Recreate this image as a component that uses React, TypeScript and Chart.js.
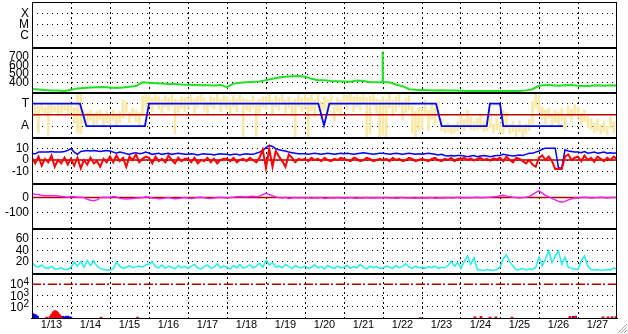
import React, { useEffect, useRef } from 'react';
import { Chart, registerables } from 'chart.js';

Chart.register(...registerables);

// ---------- labels ----------
const dayLabels = ['1/13', '1/14', '1/15', '1/16', '1/17', '1/18', '1/19', '1/20', '1/21', '1/22', '1/23', '1/24', '1/25', '1/26', '1/27'];
const statusTickValues = [1, 2, 3];
const statusTickLabels = ['C', 'M', 'X'];
const modeTickValues = [1, 3];
const modeTickLabels = ['A', 'T'];
const levelTickValues = [400, 500, 600, 700];
const devTickValues = [-10, 0, 10];
const magTickValues = [-100, 0];
const cyanTickValues = [20, 40, 60];
const logTickValues = [100, 1000, 10000];
const logTickBase = '10';
const logTickExponents = ['2', '3', '4'];

// ---------- data ----------
const FINE_STEP_H = 2; // hours between samples
const GREEN_STEP_H = 4;

// panel 2 (green)
const greenValues = [
  328, 322, 315, 312, 310, 305,
  320, 335, 340, 345, 348, 350,
  345, 340, 345, 355, 362, 405,
  400, 395, 390, 385, 385, 380,
  378, 375, 372, 370, 368, 375,
  350, 390, 400, 405, 410, 415,
  430, 445, 460, 470, 475, 478,
  470, 445, 430, 428, 420, 418,
  415, 412, 425, 420, 405, 405,
  405, 405, 380, 360, 325, 318,
  315, 313, 312, 313, 312, 310,
  308, 306, 305, 306, 305, 304,
  305, 304, 305, 306, 312, 325,
  365, 375, 370, 365, 370, 375,
  365, 360, 365, 370, 365, 370,
  368,
];
const greenSpikeTimes = [215.6, 215.8, 216.0];
const greenSpikeValues = [405, 760, 405];

// panel 3 (A / T): yellow range per 2 h bin
const yellowHigh = [
  3.0, 2.9, 2.8, 3.0, 2.7, 2.9, 3.0, 2.8, 2.9, 3.0, 2.9, 3.1,
  2.9, 2.6, 3.9, 3.9, 2.4, 2.2, 2.4, 2.1, 2.3, 2.4, 2.0, 2.3,
  2.1, 2.4, 2.0, 2.3, 3.3, 3.2, 2.2, 2.6, 2.4, 2.2, 3.7, 3.8,
  3.7, 3.5, 3.8, 3.6, 3.3, 3.7, 3.5, 3.8, 3.4, 3.3, 3.6, 3.5,
  3.5, 3.8, 3.4, 3.6, 3.9, 3.5, 3.2, 3.7, 3.5, 3.9, 3.4, 3.7,
  3.6, 3.3, 3.7, 3.4, 3.8, 3.5, 3.4, 3.3, 3.7, 3.2, 3.4, 3.6,
  3.6, 3.9, 3.3, 3.7, 3.5, 3.8, 3.3, 3.6, 3.2, 3.4, 3.8, 3.5,
  3.8, 3.5, 3.9, 3.3, 3.9, 3.2, 3.6, 3.4, 3.8, 3.0, 3.5, 3.3,
  3.9, 3.7, 4.0, 3.6, 3.8, 3.6, 3.9, 3.5, 3.7, 3.9, 3.4, 3.3,
  3.6, 3.4, 3.9, 3.3, 3.6, 3.9, 3.2, 3.5, 3.7, 2.8, 2.3, 2.7,
  2.6, 3.3, 2.4, 3.1, 2.6, 3.2, 1.6, 1.0, 1.3, 0.9, 1.1, 1.4,
  2.0, 1.6, 2.4, 1.8, 1.4, 1.7, 2.0, 1.4, 1.6, 1.9, 1.2, 1.7,
  1.3, 2.4, 2.2, 1.2, 1.4, 1.0, 1.5, 0.9, 1.2, 1.6, 3.2, 4.0,
  3.7, 2.7, 2.4, 2.6, 2.1, 2.4, 2.2, 2.6, 2.0, 2.8, 2.5, 2.9,
  2.7, 2.1, 2.4, 1.9, 1.7, 1.3, 1.6, 1.1, 1.4, 1.0, 1.8, 1.4,
  1.4,
];
const yellowLow = [
  2.2, 2.0, 0.4, 2.3, 2.1, 0.2, 2.2, 2.3, 1.9, 2.2, 2.4, 2.1,
  2.2, 1.3, 0.4, 0.3, 1.3, 1.1, 1.5, 1.0, 1.2, 1.6, 0.9, 1.3,
  1.0, 1.5, 1.0, 1.3, 1.7, 2.2, 1.3, 1.8, 1.4, 1.1, 2.1, 2.7,
  2.8, 2.3, 2.9, 2.5, 2.2, 2.7, 2.4, 2.8, 0.3, 2.2, 2.6, 2.3,
  2.6, 2.9, 2.2, 2.6, 3.0, 2.4, 2.0, 2.7, 2.5, 3.0, 2.3, 2.8,
  2.5, 2.1, 2.7, 2.3, 2.9, 0.1, 2.4, 2.3, 2.6, 0.1, 2.2, 2.7,
  2.5, 3.0, 2.1, 2.7, 2.4, 2.9, 2.2, 2.6, 1.9, 0.0, 2.7, 2.3,
  2.6, 0.0, 2.4, 1.8, 2.9, 1.6, 2.4, 2.0, 2.7, 1.4, 2.3, 1.9,
  2.9, 2.5, 3.1, 2.3, 2.7, 2.4, 3.0, 0.0, 0.3, 2.8, 2.2, 0.0,
  0.2, 0.0, 2.6, 1.9, 2.3, 2.7, 1.6, 2.2, 2.4, 0.4, 0.0, 0.6,
  0.8, 1.9, 0.6, 1.6, 1.1, 1.9, 0.6, 0.4, 0.5, 0.3, 0.4, 0.6,
  0.9, 0.6, 1.0, 0.7, 0.6, 0.7, 0.8, 0.5, 0.6, 0.8, 0.4, 0.7,
  0.4, 0.3, 0.8, 0.3, 0.5, 0.1, 0.5, 0.0, 0.3, 0.6, 1.2, 2.6,
  2.2, 1.6, 1.2, 1.7, 0.9, 1.3, 1.0, 1.5, 0.7, 1.8, 1.4, 2.0,
  1.7, 1.1, 1.4, 0.9, 0.7, 0.4, 0.6, 0.3, 0.5, 0.2, 0.8, 0.4,
  0.7,
];
const modeStepTimes = [0, 29.5, 33.5, 69.5, 72, 176.2, 179.7, 183, 248.6, 252.1, 279.8, 281.8, 288, 290, 326.8];
const modeStepValues = [3, 3, 1, 1, 3, 3, 1.07, 3, 3, 1, 1, 3, 3, 1, 1];
const modeMidValue = 2;

// panel 4 (deviation)
const blueDevValues = [
  5.5, 5.5, 7, 7, 7, 7, 7.5, 7, 7, 7, 7.5, 8.5,
  10, 7, 5, 7.5, 8, 8.5, 8, 8.5, 8, 7.5, 8, 8.5,
  8, 7, 6, 7, 6.5, 5.5, 5, 6, 6.5, 5.5, 6, 7,
  6, 5, 5.5, 6, 5, 5.5, 6, 5, 5.5, 6, 5.5, 5,
  5, 5.5, 5, 4.5, 5, 5.5, 5, 5, 4.5, 5, 5.5, 5,
  5, 4.5, 5, 5, 4.5, 5, 5.5, 5, 5, 6, 7, 8.5,
  11, 13, 12, 10, 9, 8.5, 8, 7, 6.5, 6, 5.5, 5.5,
  5.5, 5, 5.5, 6, 5.5, 5, 5.5, 6, 5.5, 5, 5.5, 6,
  5.5, 6, 5.5, 5, 5.5, 6, 6.5, 6, 5.5, 5, 5.5, 6,
  6, 5.5, 5, 5.5, 6, 5.5, 5, 5.5, 6, 5.5, 5, 5.5,
  5, 5.5, 6, 5.5, 5, 4.5, 5, 4, 3.5, 4, 3.5, 4,
  4, 3.5, 3, 3.5, 4, 3, 3.5, 4, 3.5, 3, 3.5, 4,
  4, 5, 4.5, 4, 3.5, 4, 4.5, 4, 5, 6, 6, 7,
  8, 9.5, 10.5, 10.5, 10.5, 10.5, -7, -7, 9, 8, 7.5, 7,
  7, 6.5, 7.5, 6, 6.5, 7, 6, 6.5, 7, 6, 6.5, 6,
  6.5,
];
const redDevValues = [
  2, -3, 3, -5, 1, -2, 4, -6, 0, -3, 2, -4,
  1, -5, 2, -7.5, 0, -4, 2, -3, -1, -6, 1, -2,
  3, -2, 4, -1, 2, -6, 3, 0, 5, -2, 1, 3,
  2, -3, 3, -1, 1, -2, 4, 0, -3, 2, -1, 1,
  1, -2, 2, -3, 0, -1, 2, -2, 1, -3, 0, 1,
  1, -1, 2, -2, 0, 1, -1, 2, 0, -2, 2, 9,
  -7, 10, -6, 8, 3, -1, -6, 5, 2, -2, 1, 0,
  1, -1, 2, 0, 1, -1, 2, 0, -1, 1, 0, 2,
  1, 0, -1, 2, 1, -1, 0, 2, 1, -1, 0, 1,
  0, 1, -1, 2, 0, 1, -1, 0, 2, 1, -1, 0,
  1, 0, -1, 1, 2, 0, -1, 1, 0, 2, -1, 1,
  1, 2, 0, 1.5, -0.5, 1, 2, 0, 1, -0.5, 1.5, 0.5,
  2, -1, 3, 0, -2, 2, 1, -1, -3, 0, -4, -6,
  2, 4, 0, 3, -1, -8, -8, -8, 3, 5, 0, 2,
  3, -1, 4, 0, 2, -1.5, 3, 1, -1, 2, 0, 3,
  1,
];
const devZeroValue = 0;

// panel 5 (magenta)
const magentaValues = [
  25, 22, 20, 15, 13, 12, 13, 12, 10, 8, 5, 3,
  8, 5, 2, 2, 0, -12, -18, -20, -15, 0, 2, 1,
  2, 8, 5, -5, -8, -9, -8, -6, -3, -2, 0, 5,
  3, -2, -5, -8, -6, -3, 0, -4, -8, -6, -2, 0,
  -2, -5, -3, 0, 2, -1, -4, -6, -3, 0, 2, -1,
  -1, 0, 2, 5, 8, 6, 4, 7, 9, 6, 10, 20,
  28, 20, 12, 5, 0, -3, 2, -5, -3, 0, -2, 1,
  -2, 0, -4, -1, -3, 0, -5, -2, -1, -3, 0, -2,
  -1, -3, 0, -2, -4, -1, -2, 0, -3, -1, -2, 0,
  -2, 0, -3, -1, -4, -2, 0, -3, -1, -2, -4, -1,
  -3, -1, -2, 0, -4, -2, -1, -3, 0, -2, -1, 2,
  0, -2, 1, -1, 0, 2, -1, 0, 1, 3, 5, 8,
  12, 15, 10, 5, 2, 0, -2, 0, 3, 8, 20, 35,
  45, 30, 15, 5, -5, -15, -25, -30, -25, -15, -8, -3,
  -2, 0, 2, 0, -3, -1, 0, 2, 1, -2, 0, 1,
  0,
];
const magZeroValue = 0;

// panel 6 (cyan)
const cyanValues = [
  18, 12, 10, 14, 9, 8, 12, 7, 7, 9, 6, 6,
  10, 19, 12, 20, 10, 22, 13, 21, 12, 8, 6, 5,
  5, 7, 19, 12, 8, 10, 13, 9, 11, 12, 10, 14,
  16, 20, 11, 9, 14, 8, 12, 10, 7, 13, 9, 11,
  8, 12, 15, 9, 7, 11, 14, 8, 10, 16, 9, 12,
  10, 7, 13, 9, 15, 8, 11, 14, 9, 12, 17, 10,
  22, 14, 18, 10, 12, 9, 15, 11, 8, 13, 10, 9,
  12, 8, 10, 14, 9, 11, 7, 13, 10, 8, 12, 9,
  10, 13, 8, 11, 9, 15, 10, 7, 12, 9, 11, 8,
  9, 12, 10, 8, 13, 9, 11, 16, 10, 8, 12, 9,
  10, 8, 11, 9, 12, 8, 10, 9, 13, 20, 12, 18,
  8, 20, 30, 15, 27, 6, 5, 4, 6, 5, 4, 6,
  10, 25, 32, 20, 12, 5, 6, 8, 5, 7, 6, 10,
  28, 12, 25, 39, 18, 30, 39, 15, 28, 10, 8, 7,
  6, 22, 30, 12, 6, 5, 6, 4, 5, 6, 5, 9,
  6,
];

// panel 7 (log counts)
const redBarTimes = [9, 11, 12, 13, 14, 15, 16, 17, 18, 42.5, 65, 239, 272.6, 276.3, 281.8, 285.5, 295.4, 331, 334, 351.4, 354.5, 357, 359.4];
const redBarValues = [12, 14, 22, 35, 45, 42, 30, 20, 13, 12, 12, 11, 13, 14, 12, 13, 12, 14, 14, 13, 13, 12, 14];
const blueBarTimes = [0.3, 1, 1.8, 2.6, 3.4, 14, 15, 16, 17, 18, 19, 20, 21, 22, 23, 24, 333, 334.5, 357];
const blueBarValues = [25, 22, 20, 18, 14, 13, 14, 15, 14, 15, 14, 13, 14, 15, 13, 12, 14, 15, 13];
const logLimitValue = 10000;

// ---------- helpers ----------
const TOTAL_H = dayLabels.length * 24;
const series = (vals: number[], step: number) => vals.map((v, i) => ({ x: i * step, y: v }));
const ranges = (lo: number[], hi: number[], step: number) => lo.map((v, i) => ({ x: i * step, y: [v, hi[i]] }));
const pairs = (ts: number[], vs: number[]) => ts.map((t, i) => ({ x: t, y: vs[i] }));
const flat = (v: number) => [{ x: 0, y: v }, { x: TOTAL_H, y: v }];

const FAMILY = '"Liberation Sans", Arial, Helvetica, sans-serif';
const FONT = { family: FAMILY, size: 12 };

function panelScale(weight: number, min: number, max: number, tickVals: number[], labelFn: (v: number) => string, extra: any = {}) {
  return {
    type: extra.type || 'linear',
    position: 'left',
    stack: 'panels',
    stackWeight: 1,
    weight,
    min,
    max,
    offset: false,
    grid: { color: '#000', lineWidth: 1, drawTicks: false, ...(extra.grid || {}) },
    border: { display: true, color: '#000', width: 1, dash: [1, 4] },
    ticks: { autoSkip: false, padding: 3, color: '#000', font: FONT, callback: (v: number) => labelFn(v) },
    afterBuildTicks: (s: any) => { s.ticks = tickVals.map((v) => ({ value: v })); },
    afterFit: (s: any) => { s.width = 32; s.paddingTop = 0; s.paddingBottom = 0; },
  };
}

const panelIds = ['pXMC', 'pG', 'pMode', 'pDev', 'pMag', 'pCyan', 'pLog'];

const framePlugin = {
  id: 'panelFrame',
  afterDatasetsDraw(chart: any) {
    const { ctx, chartArea } = chart;
    ctx.save();
    ctx.strokeStyle = '#000';
    ctx.lineWidth = 2;
    panelIds.slice(1).forEach((id) => {
      const s = chart.scales[id];
      const y = Math.round(s.top) + 1;
      ctx.beginPath();
      ctx.moveTo(chartArea.left, y);
      ctx.lineTo(chartArea.right, y);
      ctx.stroke();
    });
    ctx.lineWidth = 1;
    ctx.strokeRect(chartArea.left + 0.5, chartArea.top + 0.5, chartArea.right - chartArea.left - 1, chartArea.bottom - chartArea.top);
    ctx.restore();
  },
  afterDraw(chart: any) {
    const { ctx } = chart;
    const s = chart.scales.pLog;
    ctx.save();
    ctx.fillStyle = '#000';
    ctx.textAlign = 'right';
    ctx.textBaseline = 'middle';
    logTickValues.forEach((v, i) => {
      const y = s.getPixelForValue(v);
      const right = s.right - 3;
      ctx.font = `10px ${FAMILY}`;
      const ew = ctx.measureText(logTickExponents[i]).width;
      ctx.fillText(logTickExponents[i], right, y - 2);
      ctx.font = `12px ${FAMILY}`;
      ctx.fillText(logTickBase, right - ew, y + 1);
    });
    // window resize grip in the bottom-right corner
    const W = chart.width;
    const H = chart.height;
    ctx.strokeStyle = '#a0a0a0';
    ctx.lineWidth = 1;
    [3, 6, 9].forEach((d) => {
      ctx.beginPath();
      ctx.moveTo(W - 1 - d, H - 1);
      ctx.lineTo(W - 1, H - 1 - d);
      ctx.stroke();
    });
    ctx.restore();
  },
};

const line = (label: string, data: any[], yAxisID: string, color: string, width: number, extra: any = {}) => ({
  type: 'line',
  label,
  data,
  yAxisID,
  xAxisID: 'x',
  borderColor: color,
  backgroundColor: color,
  borderWidth: width,
  pointRadius: 0,
  tension: 0,
  fill: false,
  ...extra,
});

export default function App() {
  const ref = useRef<HTMLCanvasElement | null>(null);

  useEffect(() => {
    if (!ref.current) return;
    const greenPts = [...series(greenValues, GREEN_STEP_H), ...pairs(greenSpikeTimes, greenSpikeValues)].sort((a, b) => a.x - b.x);

    const datasets: any[] = [
      { type: 'bar', label: 'red counts', data: pairs(redBarTimes, redBarValues), yAxisID: 'pLog', xAxisID: 'x', backgroundColor: '#ff0000', borderWidth: 0, barThickness: 2, grouped: false },
      { type: 'bar', label: 'blue counts', data: pairs(blueBarTimes, blueBarValues), yAxisID: 'pLog', xAxisID: 'x', backgroundColor: '#0000ff', borderWidth: 0, barThickness: 2, grouped: false },
      line('limit', flat(logLimitValue), 'pLog', '#b00000', 1.5, { borderDash: [9, 2, 2, 3] }),
      line('cyan', series(cyanValues, FINE_STEP_H), 'pCyan', '#22eeee', 1.5),
      line('magenta', series(magentaValues, FINE_STEP_H), 'pMag', '#ee22ee', 1.5),
      line('mag zero', flat(magZeroValue), 'pMag', '#b00000', 1.5),
      line('red dev', series(redDevValues, FINE_STEP_H), 'pDev', '#ff0000', 2),
      line('blue dev', series(blueDevValues, FINE_STEP_H), 'pDev', '#0000ff', 1.5),
      line('dev zero', flat(devZeroValue), 'pDev', '#b00000', 1.5),
      line('mode', pairs(modeStepTimes, modeStepValues), 'pMode', '#0000ff', 1.8),
      line('mode mid', flat(modeMidValue), 'pMode', '#c00000', 1.5),
      { type: 'bar', label: 'yellow', data: ranges(yellowLow, yellowHigh, FINE_STEP_H), yAxisID: 'pMode', xAxisID: 'x', backgroundColor: '#fae9a6', borderWidth: 0, barThickness: 2, grouped: false },
      line('green', greenPts, 'pG', '#22e022', 2),
    ];

    const xTicks: number[] = [];
    for (let h = 0; h <= TOTAL_H; h += 12) xTicks.push(h);

    const chart = new Chart(ref.current, {
      type: 'line',
      data: { datasets },
      plugins: [framePlugin],
      options: {
        responsive: false,
        animation: false,
        events: [],
        layout: { padding: { top: 2, right: 11, bottom: 0, left: 0 } },
        plugins: { legend: { display: false }, tooltip: { enabled: false }, title: { display: false } },
        scales: {
          x: {
            type: 'linear',
            position: 'bottom',
            min: 0,
            max: TOTAL_H,
            offset: false,
            grid: {
              offset: false,
              drawTicks: false,
              lineWidth: 1,
              color: (ctx: any) => {
                const v = ctx.tick ? ctx.tick.value : -1;
                return v % 24 === 0 && v > 0 && v < TOTAL_H ? '#000' : 'rgba(0,0,0,0)';
              },
            },
            border: { display: true, color: '#000', width: 1, dash: [2, 3] },
            ticks: {
              autoSkip: false,
              maxRotation: 0,
              minRotation: 0,
              padding: 0,
              color: '#000',
              font: { ...FONT, size: 11 },
              callback: (v: number) => (v % 24 === 12 ? dayLabels[(v - 12) / 24] : ''),
            },
            afterBuildTicks: (s: any) => { s.ticks = xTicks.map((v) => ({ value: v })); },
            afterFit: (s: any) => { s.height = 16; s.paddingLeft = 0; s.paddingRight = 0; },
          },
          pXMC: panelScale(7, 0, 4, statusTickValues, (v) => statusTickLabels[statusTickValues.indexOf(v)] ?? ''),
          pG: panelScale(6, 290, 810, levelTickValues, (v) => String(v)),
          pMode: panelScale(5, 0, 4, modeTickValues, (v) => modeTickLabels[modeTickValues.indexOf(v)] ?? ''),
          pDev: panelScale(4, -20, 20, devTickValues, (v) => String(v)),
          pMag: panelScale(3, -200, 100, magTickValues, (v) => String(v)),
          pCyan: panelScale(2, 0, 80, cyanTickValues, (v) => String(v)),
          pLog: panelScale(1, 10, 100000, logTickValues, () => '', {
            type: 'logarithmic',
            grid: { color: (ctx: any) => (ctx.tick && ctx.tick.value === logLimitValue ? 'rgba(0,0,0,0)' : '#000') },
          }),
        } as any,
      },
    } as any);

    return () => chart.destroy();
  }, []);

  return (
    <div style={{ position: 'absolute', left: 0, top: 0, width: 628, height: 334, background: '#fff' }}>
      <canvas ref={ref} width={628} height={334} style={{ display: 'block' }} />
    </div>
  );
}
